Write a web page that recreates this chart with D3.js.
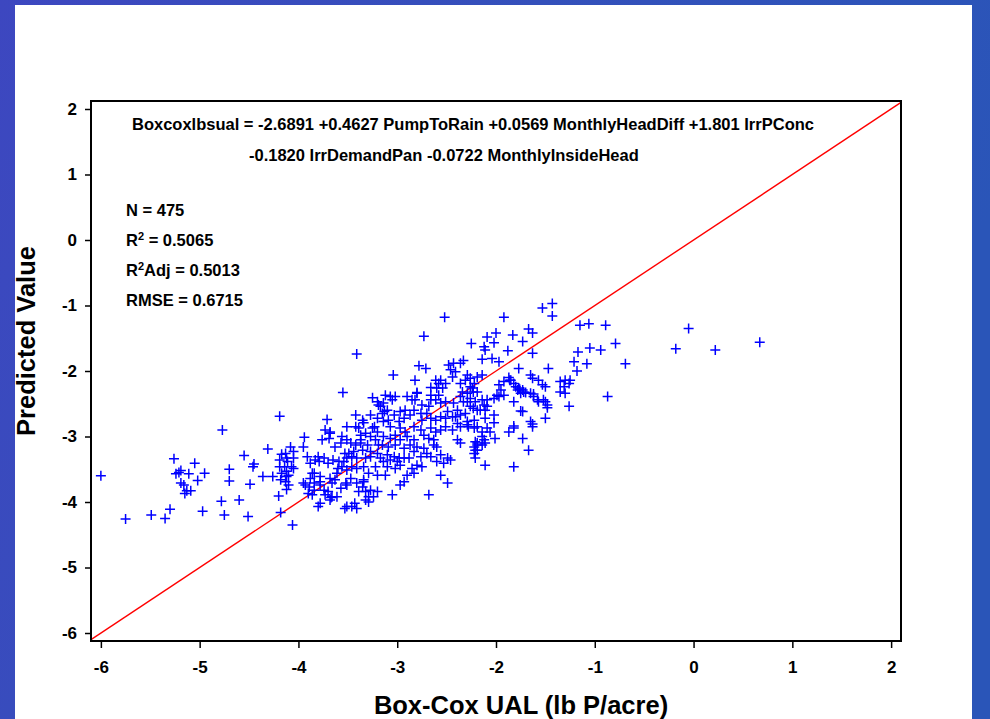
<!DOCTYPE html>
<html><head><meta charset="utf-8">
<script src="https://cdn.jsdelivr.net/npm/d3@7"></script>
<style>html,body{margin:0;padding:0;overflow:hidden;background:#3a4cc0}</style>
</head><body><svg id="c" width="990" height="719"></svg>
<script>
// ---- data ----
const xTicks = [-6,-5,-4,-3,-2,-1,0,1,2];
const yTicks = [-6,-5,-4,-3,-2,-1,0,1,2];
const xTitle = "Box-Cox UAL (lb P/acre)";
const yTitle = "Predicted Value";
const equationLines = [
  "Boxcoxlbsual = -2.6891 +0.4627 PumpToRain +0.0569 MonthlyHeadDiff +1.801 IrrPConc",
  "-0.1820 IrrDemandPan -0.0722 MonthlyInsideHead"
];
const statLabels = ["N = 475", "R2 = 0.5065", "R2Adj = 0.5013", "RMSE = 0.6715"];
// [Box-Cox UAL, Predicted Value]
const observations = [
[-6.00,-3.60],[-5.75,-4.26],[-5.49,-4.20],[-5.35,-4.25],[-5.30,-4.11],[-5.26,-3.34],[-5.21,-3.55],[-5.24,-3.57],[-5.19,-3.52],[-5.11,-3.57],[-5.19,-3.71],[-5.16,-3.74],[-5.13,-3.83],[-5.15,-3.87],[-5.09,-3.83],[-5.05,-3.41],[-5.02,-3.67],[-4.95,-3.56],[-4.97,-4.14],[-4.77,-2.90],[-4.70,-3.50],[-4.70,-3.68],[-4.78,-3.99],[-4.75,-4.20],[-4.60,-3.97],[-4.55,-3.29],[-4.45,-3.42],[-4.46,-3.46],[-4.49,-3.73],[-4.51,-4.22],[-4.36,-3.61],[-4.31,-3.19],[-4.19,-2.69],[-4.20,-3.91],[-4.18,-4.16],[-4.06,-4.35],[-4.26,-3.61],
[-4.17,-3.27],[-4.13,-3.26],[-4.19,-3.36],[-4.12,-3.33],[-4.08,-3.16],[-4.05,-3.33],[-4.19,-3.46],[-4.14,-3.46],[-4.12,-3.53],[-4.07,-3.46],[-4.17,-3.56],[-4.12,-3.61],[-4.18,-3.66],[-4.13,-3.69],[-4.10,-3.74],[-4.12,-3.81],[-4.05,-3.23],[-4.11,-3.38],[-4.10,-3.59],[-4.05,-3.49],
[-3.94,-3.01],[-3.95,-3.16],[-3.91,-3.31],[-3.95,-3.71],[-3.89,-3.77],[-3.86,-3.89],[-3.84,-3.56],[-3.80,-3.31],[-3.78,-4.02],[-3.78,-3.69],[-3.73,-2.90],[-3.71,-2.74],[-3.68,-2.95],[-3.70,-3.84],[-3.67,-3.93],[-3.65,-3.36],[-3.63,-3.16],[-3.61,-3.56],[-3.60,-3.49],[-3.55,-2.33],[-3.56,-3.00],[-3.53,-3.26],[-3.51,-3.74],[-3.53,-4.10],[-3.41,-1.74],[-3.42,-2.67],[-3.41,-4.10],[-3.32,-3.97],[-3.35,-2.75],[-3.37,-3.10],[-3.27,-3.31],[-3.25,-2.41],[-3.23,-2.85],[-3.34,-3.66],
[-3.69,-3.03],[-3.76,-3.05],[-3.51,-3.05],[-3.57,-3.10],[-3.47,-3.10],[-3.39,-2.87],[-3.37,-2.98],[-3.32,-2.95],[-3.25,-2.87],[-3.20,-2.93],[-3.27,-3.00],[-3.22,-3.05],[-3.19,-3.13],[-3.37,-3.05],[-3.42,-3.13],[-3.30,-3.13],[-3.35,-3.21],[-3.44,-3.23],[-3.49,-3.26],[-3.46,-3.31],[-3.41,-3.33],[-3.51,-3.33],[-3.54,-3.38],[-3.32,-3.33],[-3.27,-3.23],[-3.20,-3.26],[-3.83,-3.36],[-3.79,-3.38],[-3.88,-3.41],[-3.74,-3.33],[-3.59,-3.38],[-3.70,-3.41],[-3.56,-3.46],[-3.51,-3.51],[-3.46,-3.46],[-3.41,-3.49],[-3.34,-3.46],[-3.29,-3.56],[-3.22,-3.46],[-3.20,-3.59],[-3.86,-3.56],[-3.88,-3.64],[-3.78,-3.61],[-3.93,-3.74],[-3.84,-3.71],[-3.78,-3.74],[-3.74,-3.82],[-3.84,-3.82],[-3.90,-3.87],[-3.68,-3.64],[-3.63,-3.66],[-3.66,-3.71],[-3.57,-3.79],[-3.52,-3.71],[-3.47,-3.64],[-3.41,-3.71],[-3.35,-3.77],[-3.34,-3.69],[-3.39,-3.84],[-3.32,-3.84],[-3.27,-3.82],[-3.29,-3.92],[-3.24,-3.92],[-3.20,-3.84],[-3.73,-3.89],[-3.66,-3.92],[-3.61,-3.92],[-3.68,-3.97],[-3.80,-4.07],[-3.51,-4.07],[-3.46,-4.07],[-3.43,-4.02],[-3.29,-4.00],
[-3.20,-2.47],[-3.19,-2.52],[-3.34,-2.79],[-3.20,-2.72],[-3.68,-2.93],[-3.51,-2.85],[-3.42,-2.85],[-3.27,-2.67],[-3.17,-2.54],[-3.13,-2.62],
[-2.48,-1.91],[-2.43,-1.88],[-2.36,-1.88],[-2.46,-1.98],[-2.41,-2.01],[-2.44,-2.09],[-2.29,-2.06],[-2.26,-2.11],[-2.31,-2.14],[-2.19,-2.09],[-2.22,-2.19],[-2.61,-2.14],[-2.58,-2.19],[-2.51,-2.19],[-2.54,-2.26],[-2.36,-2.19],[-2.34,-2.32],[-2.29,-2.34],[-2.24,-2.26],[-2.19,-2.32],[-2.26,-2.42],[-2.21,-2.47],[-2.33,-2.47],[-2.26,-2.54],[-2.19,-2.60],[-3.12,-2.37],[-3.07,-2.39],[-3.02,-2.39],[-3.05,-2.44],[-3.14,-2.49],[-2.90,-2.39],[-2.85,-2.44],[-2.80,-2.34],[-2.82,-2.44],[-2.75,-2.52],[-2.66,-2.37],[-2.58,-2.37],[-2.61,-2.44],[-2.68,-2.54],[-2.56,-2.49],[-2.51,-2.47],[-2.43,-2.49],[-2.39,-2.60],[-2.49,-2.62],[-2.44,-2.70],[-2.36,-2.67],[-2.31,-2.65],[-3.10,-2.60],[-3.15,-2.65],[-3.03,-2.67],[-2.97,-2.62],[-2.92,-2.60],[-2.87,-2.67],[-2.93,-2.72],[-2.98,-2.77],[-2.83,-2.60],[-2.76,-2.65],[-2.70,-2.65],[-2.66,-2.72],[-2.61,-2.75],[-2.75,-2.75],[-3.09,-2.75],[-3.14,-2.77],[-2.56,-2.70],[-2.51,-2.72],[-2.39,-2.80],[-2.29,-2.77],[-2.22,-2.75],
[-3.07,-2.85],[-2.97,-2.87],[-2.92,-2.93],[-2.83,-2.85],[-2.76,-2.90],[-2.66,-2.87],[-2.61,-2.93],[-2.56,-2.90],[-2.51,-2.85],[-2.44,-2.90],[-2.36,-2.85],[-2.28,-2.85],[-2.22,-2.87],[-3.14,-3.00],[-3.07,-3.03],[-3.02,-2.98],[-2.97,-3.05],[-2.90,-3.00],[-2.83,-3.05],[-2.73,-2.98],[-2.68,-3.03],[-2.63,-3.05],[-2.39,-3.05],[-2.36,-3.10],[-2.21,-3.08],[-2.19,-3.13],[-3.15,-3.13],[-3.09,-3.16],[-3.02,-3.13],[-2.93,-3.18],[-2.87,-3.13],[-2.80,-3.16],[-2.83,-3.23],[-2.73,-3.18],[-2.63,-3.13],[-2.60,-3.16],[-2.70,-3.26],[-2.76,-3.31],[-2.66,-3.31],[-2.56,-3.28],[-3.10,-3.28],[-3.03,-3.31],[-2.98,-3.33],[-3.07,-3.36],[-3.00,-3.38],[-2.93,-3.33],[-2.88,-3.33],[-3.14,-3.38],[-3.17,-3.33],[-2.49,-3.33],[-2.46,-3.36],[-2.60,-3.38],[-2.53,-3.41],[-2.22,-3.26],[-2.21,-3.33],[-2.19,-3.21],[-2.22,-3.16],[-3.10,-3.46],[-3.02,-3.49],[-2.97,-3.44],[-2.85,-3.49],[-2.80,-3.44],[-2.75,-3.46],[-2.83,-3.56],[-2.90,-3.59],[-3.12,-3.59],[-2.56,-3.59],[-2.49,-3.71],[-2.93,-3.69],[-2.97,-3.74],[-3.05,-3.89],[-2.68,-3.89],
[-2.09,-2.87],[-2.06,-2.93],[-2.14,-3.00],[-2.12,-3.05],[-2.11,-3.10],[-2.14,-3.13],[-2.01,-3.03],[-1.87,-2.93],[-1.82,-2.87],[-1.73,-3.03],[-1.67,-3.21],[-2.11,-3.44],[-1.82,-3.46],[-1.63,-2.85],
[-1.65,-2.06],[-1.63,-2.11],[-1.57,-2.14],[-1.87,-2.10],[-1.85,-2.14],[-1.92,-2.16],[-1.97,-2.21],[-1.95,-2.29],[-1.99,-2.37],[-2.02,-2.42],[-1.97,-2.39],[-1.92,-2.37],[-1.82,-2.19],[-1.80,-2.24],[-1.77,-2.26],[-1.73,-2.29],[-1.78,-2.29],[-1.75,-2.34],[-1.72,-2.32],[-1.65,-2.34],[-1.62,-2.39],[-1.57,-2.47],[-1.52,-2.44],[-1.48,-2.52],[-1.53,-2.21],[-1.50,-2.24],[-1.35,-2.16],[-1.30,-2.14],[-1.25,-2.14],[-1.26,-2.19],[-1.31,-2.24],[-1.26,-2.54],[-1.50,-2.72],[-1.73,-2.62],[-1.82,-2.47],[-2.12,-2.52],[-2.11,-2.60],[-2.02,-2.67],[-2.11,-2.72],[-2.14,-2.44],[-2.09,-2.44],[-1.65,-2.77],
[-1.43,-0.97],[-1.53,-1.04],[-1.43,-1.16],[-2.52,-1.18],[-1.92,-1.18],[-1.15,-1.30],[-1.06,-1.28],[-0.89,-1.30],[-2.73,-1.47],[-2.00,-1.42],[-1.83,-1.45],[-2.09,-1.48],[-1.67,-1.36],[-1.63,-1.42],[-2.25,-1.58],[-2.12,-1.63],[-2.11,-1.68],[-2.02,-1.57],[-1.73,-1.55],[-1.88,-1.69],[-1.63,-1.73],[-0.79,-1.58],[-1.17,-1.71],[-1.05,-1.65],[-0.94,-1.68],[-2.14,-1.82],[-2.04,-1.81],[-1.97,-1.86],[-2.33,-1.84],[-2.78,-1.92],[-2.71,-1.96],[-3.04,-2.06],[-1.77,-1.96],[-1.47,-1.96],[-1.21,-1.86],[-1.08,-1.89],[-1.18,-2.00],[-0.69,-1.89],[-2.82,-2.14],[-2.56,-2.14],[-2.14,-2.06],[-2.26,-2.24],[-2.23,-2.32],[-2.66,-2.25],[-2.60,-2.26],[-2.80,-2.33],[-2.66,-2.44],
[-1.86,-2.14],[-1.76,-2.28],[-1.70,-2.33],[-1.62,-2.35],[-1.35,-2.32],[-1.30,-2.34],[-0.87,-2.39],[-1.50,-2.47],[-1.48,-2.56],[-1.58,-2.44],[-1.75,-2.61],[-1.63,-2.81],[-1.82,-2.84],[-2.02,-2.79],[-2.09,-2.54],[-2.16,-2.60],[-2.23,-2.57],[-2.29,-2.47],[-2.36,-2.39],[-2.41,-2.70],[-2.29,-2.82],[-2.19,-2.85],[-2.14,-2.93],[-2.19,-3.10],[-2.21,-3.21],
[-0.05,-1.35],[-0.18,-1.66],[0.22,-1.68],[0.67,-1.56]
];

// ---- drawing ----
const FONT = "Arial, 'Liberation Sans', Helvetica, sans-serif";
const svg = d3.select('#c');
const defs = svg.append('defs');
const g = defs.append('linearGradient').attr('id','bg').attr('x1','0').attr('x2','1').attr('y1','0').attr('y2','0.3');
g.append('stop').attr('offset','0').attr('stop-color','#3d47c0');
g.append('stop').attr('offset','0.5').attr('stop-color','#3450bb');
g.append('stop').attr('offset','1').attr('stop-color','#2a55b8');
svg.append('rect').attr('width',990).attr('height',719).attr('fill','url(#bg)');
svg.append('rect').attr('x',15).attr('y',5).attr('width',957).attr('height',720).attr('fill','#ffffff');

const x = d3.scaleLinear().domain([-6.1, 2.1]).range([91, 901]);
const y = d3.scaleLinear().domain([-6.122, 2.122]).range([641, 101]);

defs.append('clipPath').attr('id','plotclip').append('rect')
  .attr('x',91).attr('y',101).attr('width',810).attr('height',540);

// reference line y = x
svg.append('line')
  .attr('clip-path','url(#plotclip)')
  .attr('x1', x(-6.1)).attr('y1', y(-6.1))
  .attr('x2', x(2.1)).attr('y2', y(2.1))
  .attr('stroke','#ff0000').attr('stroke-width',1.4);

// points
svg.append('g').selectAll('path').data(observations).join('path')
  .attr('transform', d => `translate(${x(d[0])},${y(d[1])})`)
  .attr('d','M-5,0H5M0,-5V5')
  .attr('stroke','#0000ff').attr('stroke-width',1.5).attr('fill','none');

// frame
svg.append('rect').attr('x',91).attr('y',101).attr('width',810).attr('height',540)
  .attr('fill','none').attr('stroke','#000').attr('stroke-width',2);

// axes
const xa = svg.append('g').attr('transform','translate(0,641)')
  .call(d3.axisBottom(x).tickValues(xTicks).tickSize(7).tickPadding(13).tickFormat(d3.format('d')));
const ya = svg.append('g').attr('transform','translate(91,0)')
  .call(d3.axisLeft(y).tickValues(yTicks).tickSize(6).tickPadding(8).tickFormat(d3.format('d')));
[xa, ya].forEach(a => {
  a.select('.domain').remove();
  a.selectAll('line').attr('stroke','#000').attr('stroke-width',1.5);
  a.selectAll('text').attr('font-family',FONT).attr('font-weight','bold').attr('font-size',17).attr('fill','#000');
});
ya.selectAll('text').text(d => d < 0 ? '-' + Math.abs(d) : d);
xa.selectAll('text').text(d => d < 0 ? '-' + Math.abs(d) : d);

// axis titles
svg.append('text').attr('x',521).attr('y',714).attr('text-anchor','middle')
  .attr('font-family',FONT).attr('font-weight','bold').attr('font-size',25.5).text(xTitle);
svg.append('text').attr('transform','translate(35,341) rotate(-90)').attr('text-anchor','middle')
  .attr('font-family',FONT).attr('font-weight','bold').attr('font-size',25.5).text(yTitle);

// equation
svg.append('text').attr('x',132).attr('y',130).attr('font-family',FONT).attr('font-weight','bold')
  .attr('font-size',16.5).text(equationLines[0]);
svg.append('text').attr('x',249).attr('y',161).attr('font-family',FONT).attr('font-weight','bold')
  .attr('font-size',16.5).text(equationLines[1]);

// stats
const statY = [216, 246, 276, 306];
statLabels.forEach((s, i) => {
  const t = svg.append('text').attr('x',126).attr('y',statY[i]).attr('font-family',FONT)
    .attr('font-weight','bold').attr('font-size',16.5);
  if (s.startsWith('R2')) {
    t.append('tspan').text('R');
    t.append('tspan').attr('dy',-6).attr('font-size',11).text('2');
    t.append('tspan').attr('dy',6).text(s.slice(2));
  } else {
    t.text(s);
  }
});
</script></body></html>
